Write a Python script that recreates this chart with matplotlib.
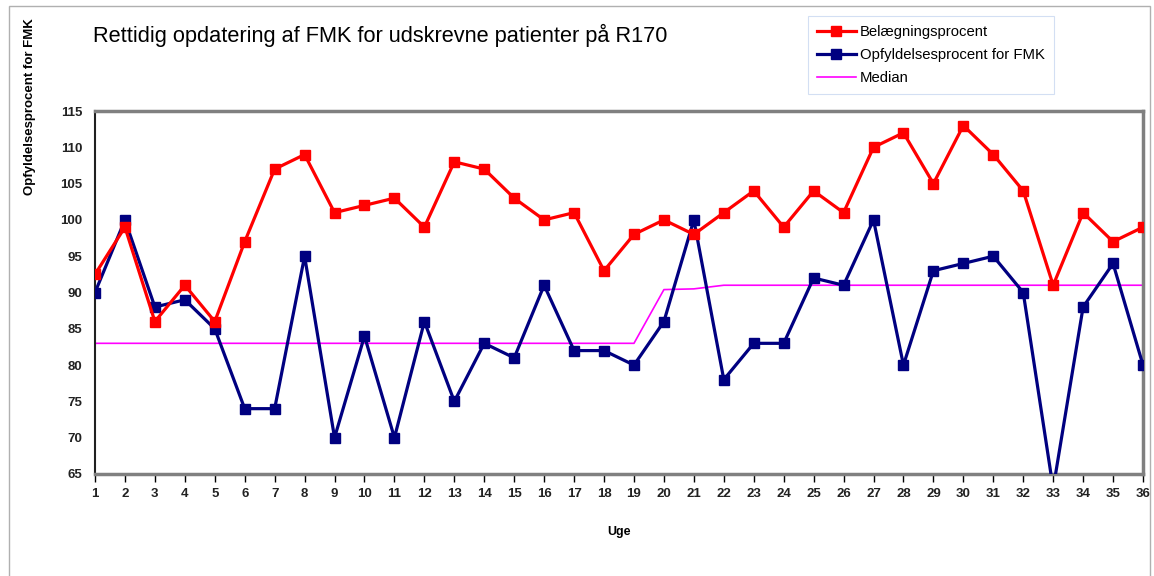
import matplotlib
matplotlib.use("Agg")
import matplotlib.pyplot as plt
from matplotlib.patches import Rectangle

# ugenumre og serier
uger = list(range(1, 37))
belaegning = [92.5, 99, 86, 91, 86, 97, 107, 109, 101, 102, 103, 99, 108, 107, 103, 100, 101, 93,
              98, 100, 98, 101, 104, 99, 104, 101, 110, 112, 105, 113, 109, 104, 91, 101, 97, 99]
opfyldelse = [90, 100, 88, 89, 85, 74, 74, 95, 70, 84, 70, 86, 75, 83, 81, 91, 82, 82,
              80, 86, 100, 78, 83, 83, 92, 91, 100, 80, 93, 94, 95, 90, 63, 88, 94, 80]
median = [83] * 19 + [90.4, 90.5] + [91] * 15
y_ticks = list(range(65, 116, 5))

plt.rcParams['font.family'] = ['Liberation Sans', 'DejaVu Sans']

fig = plt.figure(figsize=(11.54, 5.76), dpi=100)
ax = fig.add_axes([95/1154, 1 - 474/576, (1143 - 95)/1154, (474 - 111)/576])

ax.plot(uger, median, color="#FF00FF", lw=1.2, label="Median", zorder=2)
ax.plot(uger, opfyldelse, color="#000080", lw=2.3, marker="s", ms=6.5,
        label="Opfyldelsesprocent for FMK", zorder=3)
ax.plot(uger, belaegning, color="#FF0000", lw=2.3, marker="s", ms=6.5,
        label="Belægningsprocent", zorder=4)

ax.set_xlim(1, 36)
ax.set_ylim(65, 115)
ax.set_xticks(uger)
ax.set_yticks(y_ticks)
ax.tick_params(axis="x", length=6, width=1, pad=4, labelsize=9.5, direction="out")
ax.tick_params(axis="y", length=0, pad=9, labelsize=9.5)
for lbl in ax.get_xticklabels() + ax.get_yticklabels():
    lbl.set_fontweight("bold")
    lbl.set_color("#222222")

for side in ["top", "right", "bottom"]:
    ax.spines[side].set_color("#808080")
    ax.spines[side].set_linewidth(2.5)
ax.spines["left"].set_color("#202020")
ax.spines["left"].set_linewidth(1.5)

ax.set_xlabel("Uge", fontsize=9, fontweight="bold", labelpad=19)
fig.text(30/1154, 1 - 107/576, "Opfyldelsesprocent for FMK", rotation=90, fontsize=9.5,
         fontweight="bold", ha="center", va="center")
fig.text(93/1154, 1 - 35/576, "Rettidig opdatering af FMK for udskrevne patienter på R170",
         fontsize=15.7, ha="left", va="center")

handles, labels = ax.get_legend_handles_labels()
order = [2, 1, 0]
leg = fig.legend([handles[i] for i in order], [labels[i] for i in order],
                 loc="upper left", bbox_to_anchor=(808/1154, 1 - 16/576),
                 fontsize=10.7, frameon=True, fancybox=False, handlelength=2.6,
                 handletextpad=0.3, borderpad=0.6, labelspacing=0.6, borderaxespad=0)
leg.get_frame().set_edgecolor("#c8d8f0")
leg.get_frame().set_linewidth(0.8)

# ydre ramme om diagrammet
fig.add_artist(Rectangle((9/1154, -0.05), (1150 - 9)/1154, 1.05 - 6/576,
                         transform=fig.transFigure, fill=False, edgecolor="#b0b0b0", lw=1))

fig.savefig("out.png", dpi=100)
